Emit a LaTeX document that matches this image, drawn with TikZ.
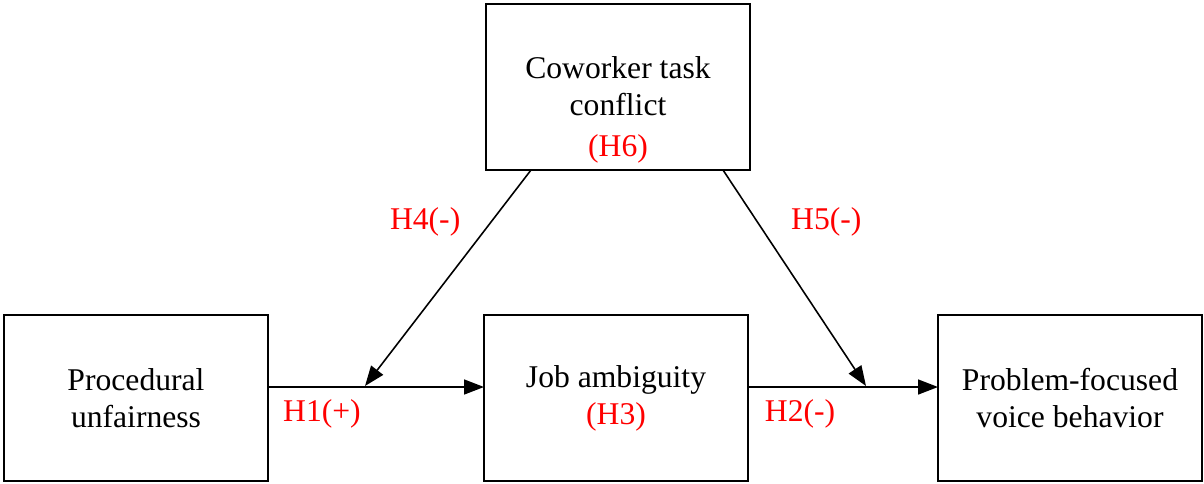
\documentclass[tikz,border=0pt]{standalone}
\usepackage{fontspec}
\setmainfont{Liberation Serif}
\usetikzlibrary{positioning}
\usetikzlibrary{arrows.meta}
\tikzset{
    varbox/.style={
        draw,rectangle,text=black,
        minimum width=5.28cm,minimum height=3.32cm,
        line width=0.9pt,align=center,
        outer sep=0pt,inner sep=1pt,
        font=\fontsize{18}{21}\selectfont,
        },
    hyplabel/.style={
        text=red,inner sep=1pt,
        font=\fontsize{18}{21}\selectfont,
        },
    pathto/.style={
        -{Triangle[length=0.4cm,width=0.3cm]},line width=0.9pt,
        }
    }

\begin{document}
\begin{tikzpicture}
    \useasboundingbox (0,0) rectangle (24.08,-9.66);
    \node[varbox] (proc) at (2.72,-7.96) {Procedural\\unfairness};
    \node[varbox] (job) [right=4.32cm of proc] {Job ambiguity\\\textcolor{red}{(H3)}};
    \node[varbox] (voice) [right=3.8cm of job] {Problem-focused\\voice behavior};
    \node[varbox] (cow) [above=2.9cm of job,xshift=0.04cm] {};
    \node[align=center,font=\fontsize{18}{21}\selectfont] (cowtext) at ([yshift=-0.46cm]cow.center) {Coworker task\\conflict\\[2pt]\textcolor{red}{(H6)}};
    \coordinate (m1) at ([xshift=-5.02cm,yshift=0.24cm]job.center);
    \coordinate (m2) at ([xshift=-4.08cm,yshift=0.24cm]voice.center);
    \draw[pathto] ([yshift=0.22cm]proc.east) -- node[hyplabel,pos=0.25,yshift=-0.54cm] (h1) {H1(+)} ([yshift=0.22cm]job.west);
    \draw[pathto] ([yshift=0.22cm]job.east) -- node[hyplabel,pos=0.274,yshift=-0.54cm] (h2) {H2(-)} ([yshift=0.22cm]voice.west);
    \draw[pathto] ([xshift=-1.74cm]cow.south) -- node[hyplabel,pos=0.24,xshift=-1.32cm] (h4) {H4(-)} (m1);
    \draw[pathto] ([xshift=2.1cm]cow.south) -- node[hyplabel,pos=0.24,xshift=1.38cm] (h5) {H5(-)} (m2);
\end{tikzpicture}
\end{document}
